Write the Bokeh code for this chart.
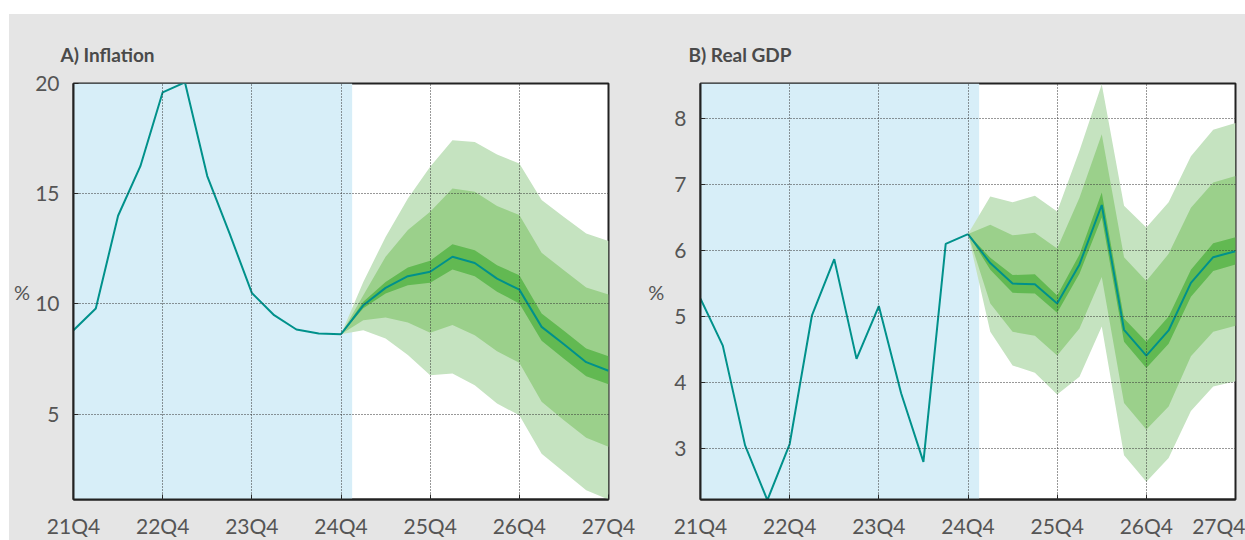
from bokeh.plotting import figure
from bokeh.models import FixedTicker, BoxAnnotation, Spacer
from bokeh.layouts import row, column
from bokeh.embed import file_html
from bokeh.resources import INLINE

# ---------------- data ----------------
quarters = ["21Q4", "22Q1", "22Q2", "22Q3", "22Q4", "23Q1", "23Q2", "23Q3", "23Q4",
            "24Q1", "24Q2", "24Q3", "24Q4", "25Q1", "25Q2", "25Q3", "25Q4",
            "26Q1", "26Q2", "26Q3", "26Q4", "27Q1", "27Q2", "27Q3", "27Q4"]
tick_labels = ["21Q4", "22Q4", "23Q4", "24Q4", "25Q4", "26Q4", "27Q4"]
hist_quarters = quarters[:13]      # 21Q4 .. 24Q4
fcst_quarters = quarters[12:]      # 24Q4 .. 27Q4
shade_end = 12.5                   # history shading ends half a quarter after 24Q4

# A) Inflation (%)
infl_hist = [8.81, 9.79, 14.0, 16.25, 19.6, 20.05, 15.8, 13.2, 10.5, 9.49, 8.84, 8.66, 8.63]
infl_med = [8.63, 9.94, 10.73, 11.26, 11.46, 12.14, 11.86, 11.15, 10.65, 8.96, 8.17, 7.36, 6.97]
infl_in_lo = [8.63, 9.80, 10.47, 10.85, 10.96, 11.56, 11.26, 10.55, 10.02, 8.33, 7.52, 6.72, 6.36]
infl_in_hi = [8.63, 10.10, 11.00, 11.65, 11.96, 12.71, 12.44, 11.76, 11.30, 9.57, 8.78, 7.98, 7.63]
infl_mid_lo = [8.63, 9.26, 9.38, 9.16, 8.69, 9.04, 8.58, 7.86, 7.33, 5.56, 4.73, 3.93, 3.52]
infl_mid_hi = [8.63, 10.40, 12.14, 13.35, 14.18, 15.24, 15.09, 14.44, 14.03, 12.32, 11.53, 10.75, 10.43]
infl_out_lo = [8.63, 8.81, 8.43, 7.68, 6.77, 6.84, 6.31, 5.48, 4.95, 3.21, 2.38, 1.55, 1.13]
infl_out_hi = [8.63, 11.00, 13.04, 14.78, 16.22, 17.43, 17.35, 16.78, 16.37, 14.71, 13.95, 13.20, 12.86]
infl_yticks = [5, 10, 15, 20]

# B) Real GDP (%)
gdp_hist = [5.27, 4.56, 3.05, 2.22, 3.07, 5.02, 5.87, 4.36, 5.16, 3.84, 2.80, 6.10, 6.25]
gdp_med = [6.25, 5.81, 5.50, 5.49, 5.20, 5.79, 6.69, 4.80, 4.41, 4.79, 5.51, 5.90, 5.99]
gdp_in_lo = [6.25, 5.71, 5.36, 5.35, 5.06, 5.65, 6.50, 4.62, 4.22, 4.59, 5.30, 5.69, 5.79]
gdp_in_hi = [6.25, 5.89, 5.63, 5.64, 5.32, 5.94, 6.88, 4.97, 4.62, 5.00, 5.71, 6.11, 6.20]
gdp_mid_lo = [6.25, 5.20, 4.77, 4.71, 4.41, 4.82, 5.60, 3.69, 3.29, 3.64, 4.40, 4.77, 4.86]
gdp_mid_hi = [6.25, 6.39, 6.23, 6.27, 6.03, 6.80, 7.76, 5.90, 5.54, 5.95, 6.65, 7.03, 7.13]
gdp_out_lo = [6.25, 4.77, 4.26, 4.15, 3.82, 4.09, 4.85, 2.90, 2.50, 2.86, 3.57, 3.94, 4.02]
gdp_out_hi = [6.25, 6.82, 6.73, 6.83, 6.59, 7.51, 8.52, 6.68, 6.35, 6.73, 7.43, 7.83, 7.93]
gdp_yticks = [3, 4, 5, 6, 7, 8]

# ---------------- style ----------------
BG = "#e5e5e5"
LINE = "#00918b"
SHADE = "#d7eef8"
C_OUT, C_MID, C_IN = "#c5e3c0", "#9bd08b", "#62b952"
TXT = "#555555"
FONT = "Lato"

pos = {q: i for i, q in enumerate(quarters)}


def panel(title, hist, med, bands, y_range, yticks, width, b_left, b_right, t_off, lab_standoff):
    p = figure(width=width, height=526, x_range=(0, len(quarters) - 1), y_range=y_range,
               output_backend="svg", toolbar_location=None,
               min_border_left=b_left, min_border_right=b_right,
               min_border_top=69, min_border_bottom=39,
               background_fill_color="white", border_fill_color=BG)
    p.title.text = title
    p.title.text_font = FONT
    p.title.text_font_size = "19px"
    p.title.text_font_style = "bold"
    p.title.text_color = "#4a4a4a"
    p.title.align = "left"
    p.title.offset = t_off
    p.title.standoff = 36

    p.add_layout(BoxAnnotation(left=0, right=shade_end, fill_color=SHADE, fill_alpha=1,
                               line_color=None, level="underlay"))

    fx = [pos[q] for q in fcst_quarters]
    hx = [pos[q] for q in hist_quarters]
    for (lo, hi), col in zip(bands, [C_OUT, C_MID, C_IN]):
        p.varea(x=fx, y1=lo, y2=hi, fill_color=col, fill_alpha=1)
    p.line(hx, hist, line_color=LINE, line_width=2)
    p.line(fx, med, line_color=LINE, line_width=2)

    tick_pos = [pos[q] for q in tick_labels]
    p.xaxis.ticker = FixedTicker(ticks=tick_pos)
    p.xaxis.major_label_overrides = {t: l for t, l in zip(tick_pos, tick_labels)}
    p.yaxis.ticker = FixedTicker(ticks=yticks)
    for ax in (p.xaxis, p.yaxis):
        ax.axis_line_color = "#222222"
        ax.axis_line_width = 2
        ax.major_tick_in = 5
        ax.major_tick_out = 0
        ax.major_tick_line_color = "#222222"
        ax.minor_tick_line_color = None
        ax.major_label_text_font = FONT
        ax.major_label_text_font_size = "21px"
        ax.major_label_text_color = TXT
    p.xaxis.major_label_standoff = 13
    p.yaxis.major_label_standoff = 14
    p.yaxis.axis_label = "%"
    p.yaxis.axis_label_orientation = "horizontal"
    p.yaxis.axis_label_text_font = FONT
    p.yaxis.axis_label_text_font_size = "20px"
    p.yaxis.axis_label_text_font_style = "normal"
    p.yaxis.axis_label_text_color = TXT
    p.yaxis.axis_label_standoff = lab_standoff

    p.grid.grid_line_color = "#333333"
    p.grid.grid_line_dash = "1 2"
    p.grid.grid_line_width = 1
    p.grid.level = "annotation"
    p.outline_line_color = "#222222"
    p.outline_line_width = 2
    return p


p1 = panel("A) Inflation", infl_hist, infl_med,
           [(infl_out_lo, infl_out_hi), (infl_mid_lo, infl_mid_hi), (infl_in_lo, infl_in_hi)],
           (1.13, 20.0), infl_yticks, 631, 64, 32, -13, 2)
p2 = panel("B) Real GDP", gdp_hist, gdp_med,
           [(gdp_out_lo, gdp_out_hi), (gdp_mid_lo, gdp_mid_hi), (gdp_in_lo, gdp_in_hi)],
           (2.23, 8.53), gdp_yticks, 605, 60, 10, -12, 7)

panels = row(p1, p2, styles={"background-color": BG})
layout = column(Spacer(height=14), row(Spacer(width=9), panels))
open("out.html", "w").write(file_html(layout, INLINE))
